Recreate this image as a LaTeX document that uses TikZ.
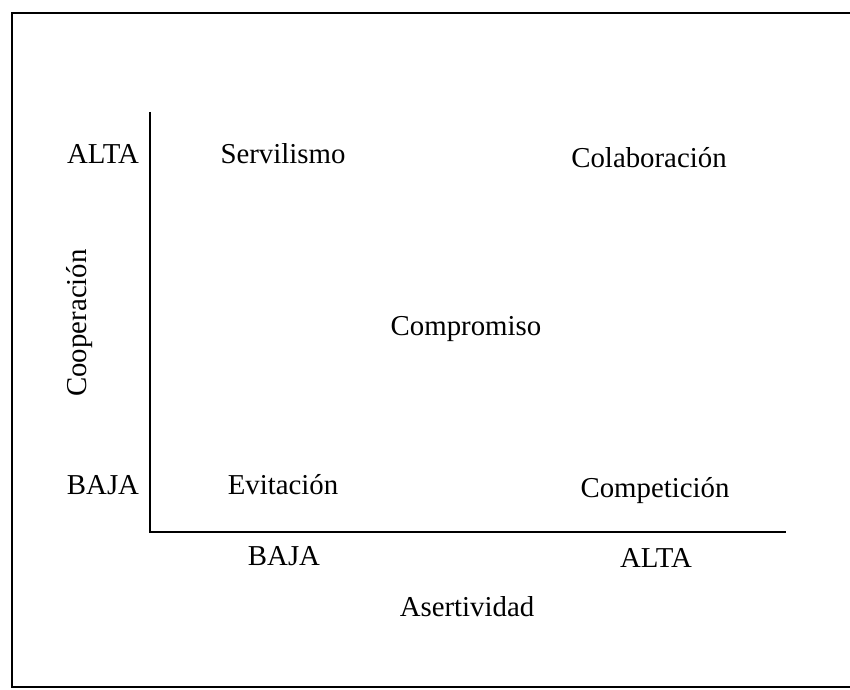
\documentclass[tikz,border=0pt]{standalone}
\usepackage{fontspec}
\setmainfont{Liberation Serif}
\usetikzlibrary{positioning}

\begin{document}
\begin{tikzpicture}[
  x=0.025cm, y=-0.025cm,
  lbl/.style={font=\fontsize{20.5}{24}\selectfont, inner sep=0pt, anchor=base},
  axis/.style={draw=black, line width=0.9pt},
  frame/.style={draw=black, line width=2pt}
]
\useasboundingbox (0,0) rectangle (850,690);
% outer frame (open on the right)
\draw[frame] (850,13) -- (12,13) -- (12,687) -- (850,687);
% axes
\coordinate (origin) at (150,532);
\coordinate (ytop) at (150,112);
\coordinate (xend) at (786,532);
\draw[axis] (ytop) -- (origin) -- (xend);
% axis levels
\node[lbl] (yhigh) at (103,163) {ALTA};
\node[lbl] (ylow)  at (103,494) {BAJA};
\node[lbl] (xlow)  at (284,565) {BAJA};
\node[lbl] (xhigh) at (656,567) {ALTA};
% axis titles
\node[lbl] (xtitle) at (467,616) {Asertividad};
\node[lbl, rotate=90] (ytitle) at (86,323) {Cooperación};
% styles
\node[lbl] (serv) at (283,164) {Servilismo};
\node[lbl] (colab) at (649,167) {Colaboración};
\node[lbl] (compr) at (466,335) {Compromiso};
\node[lbl] (evit) at (283,494) {Evitación};
\node[lbl] (compet) at (655,497) {Competición};
\end{tikzpicture}
\end{document}
